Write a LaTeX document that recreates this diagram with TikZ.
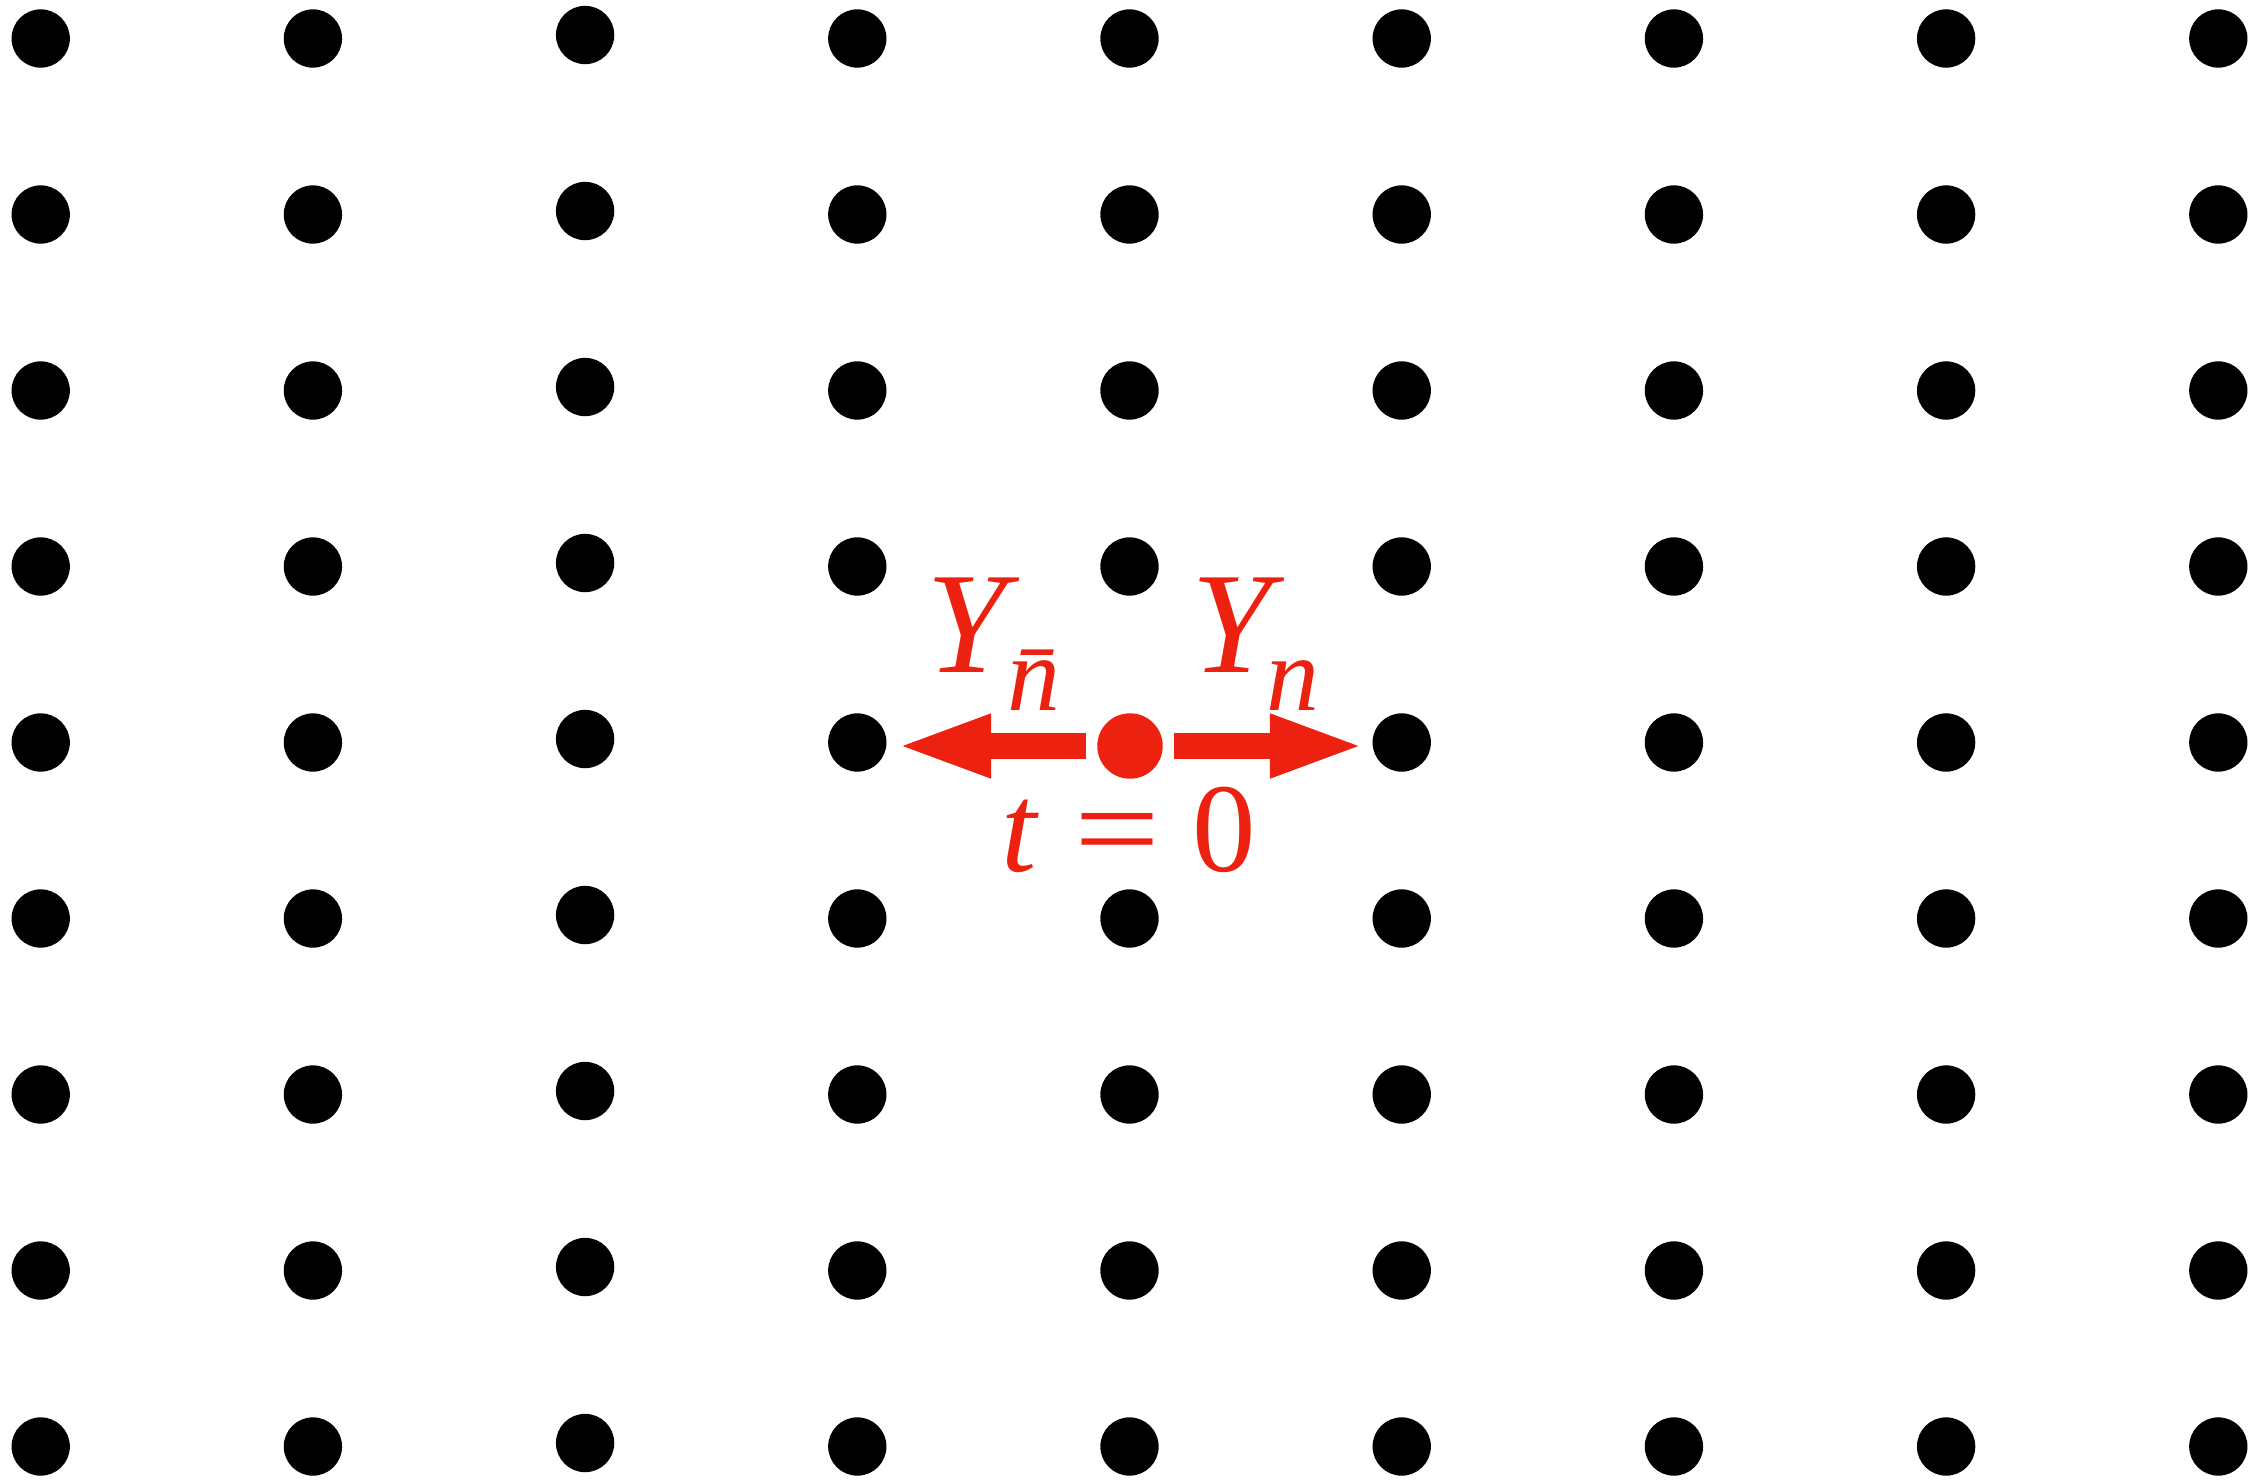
\documentclass[tikz,border=0pt]{standalone}
\usepackage{fontspec}
\setmainfont{Liberation Serif}
\usepackage{xcolor}
\usepackage{tikz}
\usetikzlibrary{arrows.meta, calc}
\definecolor{hotred}{RGB}{237,33,15}
\newcommand{\labfont}{\fontsize{41.1pt}{42pt}\selectfont}
\newcommand{\subfont}{\fontsize{30.1pt}{31pt}\selectfont}
\newcommand{\eqfont}{\fontsize{36.1pt}{37pt}\selectfont}
\tikzset{
  site/.style     = {circle, fill=black, inner sep=0pt, minimum size=5.83mm},
  origin/.style   = {circle, fill=hotred, inner sep=0pt, minimum size=6.54mm},
  fatarrow/.style = {hotred, line width=2.67mm,
                     -{Triangle[length=8.83mm, width=6.54mm, line width=0pt]},
                     shorten <=1.1mm},
  lbl/.style      = {text=hotred, inner sep=0pt, anchor=base west},
}

\begin{document}
\begin{tikzpicture}[x=0.01cm, y=-0.01cm]

    \useasboundingbox (0,0) rectangle (2258,1479);

    %% ===================== LATTICE =====================
    \foreach \i in {0,...,8}{
      \foreach \j in {0,...,8}{
        \pgfmathtruncatemacro{\isorg}{(\i==4)&&(\j==4)}
        \pgfmathsetmacro{\dy}{(\i==2) ? -3.5 : 0}
        \ifnum\isorg=0
          \node[site] (s-\i-\j) at ({40.7+272.2*\i}, {38.5+176*\j+\dy}) {};
        \fi
      }
    }

    %% ===================== ORIGIN SITE =====================
    \node[origin] (org) at (1130, 746) {};
    \coordinate (tipL) at (902.7, 746);
    \coordinate (tipR) at (1358.3, 746);

    \draw[fatarrow] (org) -- (tipL);
    \draw[fatarrow] (org) -- (tipR);

    %% ===================== LABELS =====================
    \node[lbl] (ybarn) at (925.4, 672.3)
         {\labfont\textit{Y}\hspace{-1.2mm}\raisebox{-3.77mm}{\subfont\textit{\=n}}};
    \node[lbl] (yn)    at (1190.4, 672.3)
         {\labfont\textit{Y}\hspace{-1.8mm}\raisebox{-3.77mm}{\subfont\textit{n}}};
    \node[lbl] (teq)   at (1001.2, 871.7)
         {\eqfont\textit{t}\hspace{3.45mm}\scalebox{1.2}[1]{=}\hspace{3.25mm}0};

  \end{tikzpicture}
\end{document}
